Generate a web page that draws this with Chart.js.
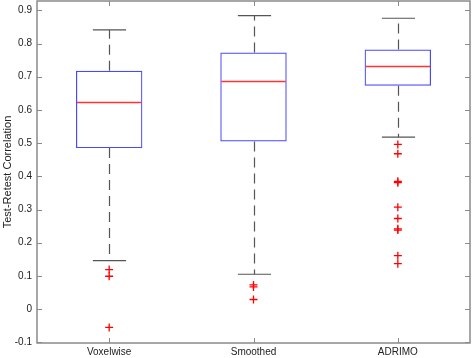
<!DOCTYPE html>
<html>
<head>
<meta charset="utf-8">
<script src="https://cdn.jsdelivr.net/npm/chart.js@4/dist/chart.umd.min.js"></script>
<style>
  html, body { margin: 0; padding: 0; background: #fff; }
  #wrap { width: 472px; height: 358px; }
</style>
</head>
<body>
<div id="wrap"><canvas id="chart"></canvas></div>
<script>
const categories = ['Voxelwise', 'Smoothed', 'ADRIMO'];

// box statistics
const lowerWhisker = [0.146, 0.105, 0.518];
const q1 = [0.485, 0.505, 0.673];
const medians = [0.623, 0.686, 0.733];
const q3 = [0.718, 0.773, 0.782];
const upperWhisker = [0.841, 0.884, 0.876];

// outliers per category
const outliersVoxelwise = [0.119, 0.099, -0.055];
const outliersSmoothed = [0.073, 0.067, 0.029];
const outliersAdrimo = [0.496, 0.468, 0.385, 0.381, 0.307, 0.273, 0.242, 0.238, 0.161, 0.137];

const yTicks = [-0.1, 0, 0.1, 0.2, 0.3, 0.4, 0.5, 0.6, 0.7, 0.8, 0.9];

const boxes = categories.map((c, i) => [q1[i], q3[i]]);
const outlierPoints = [
    ...outliersVoxelwise.map(v => ({ x: categories[0], y: v })),
    ...outliersSmoothed.map(v => ({ x: categories[1], y: v })),
    ...outliersAdrimo.map(v => ({ x: categories[2], y: v }))
];

const noPadding = () => ({ left: 0, top: 0, right: 0, bottom: 0 });

// whiskers, caps, medians and the axes frame (MATLAB style)
const boxplotParts = {
    id: 'boxplotParts',
    beforeDatasetsDraw(chart) {
        const ctx = chart.ctx;
        const x = chart.scales.x;
        const y = chart.scales.y;
        const bars = chart.getDatasetMeta(0).data;
        ctx.save();
        categories.forEach((c, i) => {
            const cx = Math.round(x.getPixelForValue(i)) + 0.5;
            const half = bars[i].width / 4;
            ctx.strokeStyle = '#555';
            ctx.lineWidth = 1.2;
            ctx.setLineDash([10, 6]);
            ctx.beginPath();
            ctx.moveTo(cx, y.getPixelForValue(q3[i]));
            ctx.lineTo(cx, y.getPixelForValue(upperWhisker[i]));
            ctx.moveTo(cx, y.getPixelForValue(q1[i]));
            ctx.lineTo(cx, y.getPixelForValue(lowerWhisker[i]));
            ctx.stroke();
            ctx.setLineDash([]);
            ctx.beginPath();
            ctx.moveTo(cx - half, y.getPixelForValue(upperWhisker[i]));
            ctx.lineTo(cx + half, y.getPixelForValue(upperWhisker[i]));
            ctx.moveTo(cx - half, y.getPixelForValue(lowerWhisker[i]));
            ctx.lineTo(cx + half, y.getPixelForValue(lowerWhisker[i]));
            ctx.stroke();
        });
        ctx.restore();
    },
    afterDatasetsDraw(chart) {
        const ctx = chart.ctx;
        const y = chart.scales.y;
        const bars = chart.getDatasetMeta(0).data;
        ctx.save();
        ctx.strokeStyle = '#ff3333';
        ctx.lineWidth = 1.5;
        categories.forEach((c, i) => {
            const b = bars[i];
            const my = Math.round(y.getPixelForValue(medians[i])) + 0.5;
            ctx.beginPath();
            ctx.moveTo(b.x - b.width / 2 + 1, my);
            ctx.lineTo(b.x + b.width / 2 - 1, my);
            ctx.stroke();
        });
        ctx.restore();
    },
    afterDraw(chart) {
        const ctx = chart.ctx;
        const a = chart.chartArea;
        const x = chart.scales.x;
        const y = chart.scales.y;
        ctx.save();
        ctx.strokeStyle = '#8a8a8a';
        ctx.lineWidth = 1.5;
        ctx.strokeRect(a.left, a.top, a.right - a.left, a.bottom - a.top);
        ctx.lineWidth = 1;
        ctx.beginPath();
        yTicks.forEach(v => {
            const py = Math.round(y.getPixelForValue(v)) + 0.5;
            ctx.moveTo(a.left, py);
            ctx.lineTo(a.left + 5, py);
            ctx.moveTo(a.right, py);
            ctx.lineTo(a.right - 5, py);
        });
        categories.forEach((c, i) => {
            const px = Math.round(x.getPixelForValue(i)) + 0.5;
            ctx.moveTo(px, a.bottom);
            ctx.lineTo(px, a.bottom - 5);
            ctx.moveTo(px, a.top);
            ctx.lineTo(px, a.top + 5);
        });
        ctx.stroke();
        ctx.restore();
    }
};

new Chart(document.getElementById('chart'), {
    type: 'bar',
    data: {
        labels: categories,
        datasets: [{
            data: boxes,
            backgroundColor: 'rgba(0,0,0,0)',
            borderColor: '#4848ff',
            borderWidth: 1.2,
            borderSkipped: false,
            barPercentage: 0.46,
            categoryPercentage: 1
        }, {
            type: 'line',
            data: outlierPoints,
            showLine: false,
            pointStyle: 'cross',
            pointRadius: 4,
            pointRotation: 0,
            borderColor: '#ff0000',
            borderWidth: 1.3,
            pointBorderColor: '#ff0000',
            clip: false
        }]
    },
    options: {
        responsive: true,
        maintainAspectRatio: false,
        animation: false,
        layout: { autoPadding: false, padding: { top: 1, right: 2, left: 0, bottom: 0 } },
        plugins: {
            legend: { display: false },
            tooltip: { enabled: false }
        },
        scales: {
            x: {
                grid: { display: false, drawTicks: false },
                border: { display: false },
                ticks: {
                    color: '#222',
                    padding: 3,
                    font: { family: 'Liberation Sans, Arial, sans-serif', size: 10 }
                },
                afterFit(scale) {
                    scale.height = 15;
                    scale.getPadding = noPadding;
                }
            },
            y: {
                min: -0.102,
                max: 0.928,
                grid: { display: false, drawTicks: false },
                border: { display: false },
                afterBuildTicks(scale) {
                    scale.ticks = yTicks.map(v => ({ value: v }));
                },
                ticks: {
                    color: '#222',
                    padding: 5,
                    font: { family: 'Liberation Sans, Arial, sans-serif', size: 10 }
                },
                title: {
                    display: true,
                    text: 'Test-Retest Correlation',
                    color: '#222',
                    padding: { top: 1, bottom: 0 },
                    font: { family: 'Liberation Sans, Arial, sans-serif', size: 11 }
                },
                afterFit(scale) {
                    scale.width = 37;
                    scale.getPadding = noPadding;
                }
            }
        }
    },
    plugins: [boxplotParts]
});
</script>
</body>
</html>
